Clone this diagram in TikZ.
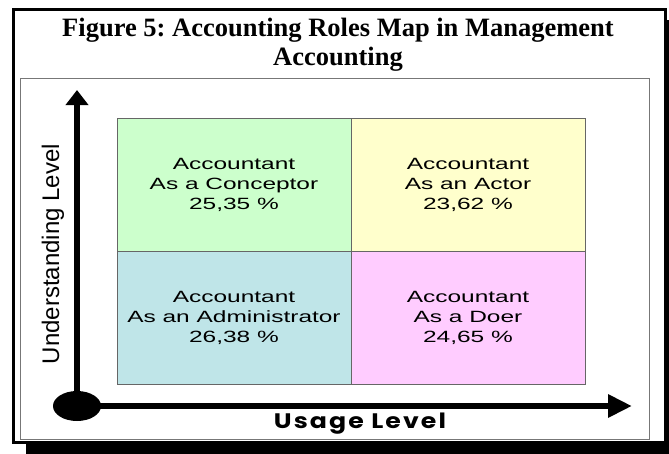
\documentclass[tikz,border=0pt]{standalone}
\usepackage{fontspec}
\usetikzlibrary{positioning,shapes.geometric,arrows.meta}

\newfontfamily\titlefont{Liberation Serif}
\newfontfamily\cellfont[FakeStretch=1.5]{Liberation Sans}
\newfontfamily\axisfont{Liberation Sans}
\newfontfamily\usagefont[FakeStretch=1.2,LetterSpace=10]{Poppins}

\definecolor{cellgreen}{HTML}{CCFFCC}
\definecolor{cellyellow}{HTML}{FFFFCC}
\definecolor{cellblue}{HTML}{BFE5E8}
\definecolor{cellpink}{HTML}{FFCCFF}
\definecolor{gridgray}{HTML}{666666}
\definecolor{boxgray}{HTML}{777777}

\frenchspacing

\begin{document}
\begin{tikzpicture}[x=1pt,y=-1pt,
		cell/.style={draw=gridgray, line width=1pt, minimum width=234pt, minimum height=133pt,
			inner sep=0pt, outer sep=0pt, align=center, font=\cellfont\fontsize{16.3}{20}\selectfont},
		axis/.style={line width=6pt}]
			\useasboundingbox (0,0) rectangle (669,453);
			% shadow, frame and title
			\fill (26,20) rectangle (680,460);
			\draw[line width=3pt, fill=white] (13.5,9.5) rectangle (665.5,442.5);
			\node[font=\titlefont\bfseries\fontsize{26.5}{29}\selectfont, align=center] (title) at (338,45)
				{Figure 5: Accounting Roles Map in Management\\Accounting};
			\draw[boxgray, fill=white] (20.5,78.5) rectangle (649.5,439.5);
			% the four roles
			\node[cell, fill=cellgreen] (conceptor) at (234,185) {Accountant\\As a Conceptor\\25,35 \%};
			\node[cell, fill=cellyellow, right=0pt of conceptor] (actor) {Accountant\\As an Actor\\23,62 \%};
			\node[cell, fill=cellblue, below=0pt of conceptor] (administrator) {Accountant\\As an Administrator\\26,38 \%};
			\node[cell, fill=cellpink, right=0pt of administrator] (doer) {Accountant\\As a Doer\\24,65 \%};
			% axes
			\node[ellipse, fill, minimum width=48pt, minimum height=30pt, inner sep=0pt] (origin) at (77,406) {};
			\coordinate (ytip) at (77,90);
			\coordinate (xtip) at (632,406);
			\draw[axis, -{Triangle[length=15pt,width=22pt]}] (origin.center) -- (ytip);
			\draw[axis, -{Triangle[length=24pt,width=22pt]}] (origin.center) -- (xtip);
			\node[rotate=90, font=\axisfont\fontsize{24}{24}\selectfont] (ylabel) at (53,254) {Understanding Level};
			\node[font=\usagefont\bfseries\fontsize{21}{21}\selectfont] (xlabel) at (360,424) {Usage Level};
		\end{tikzpicture}
\end{document}
